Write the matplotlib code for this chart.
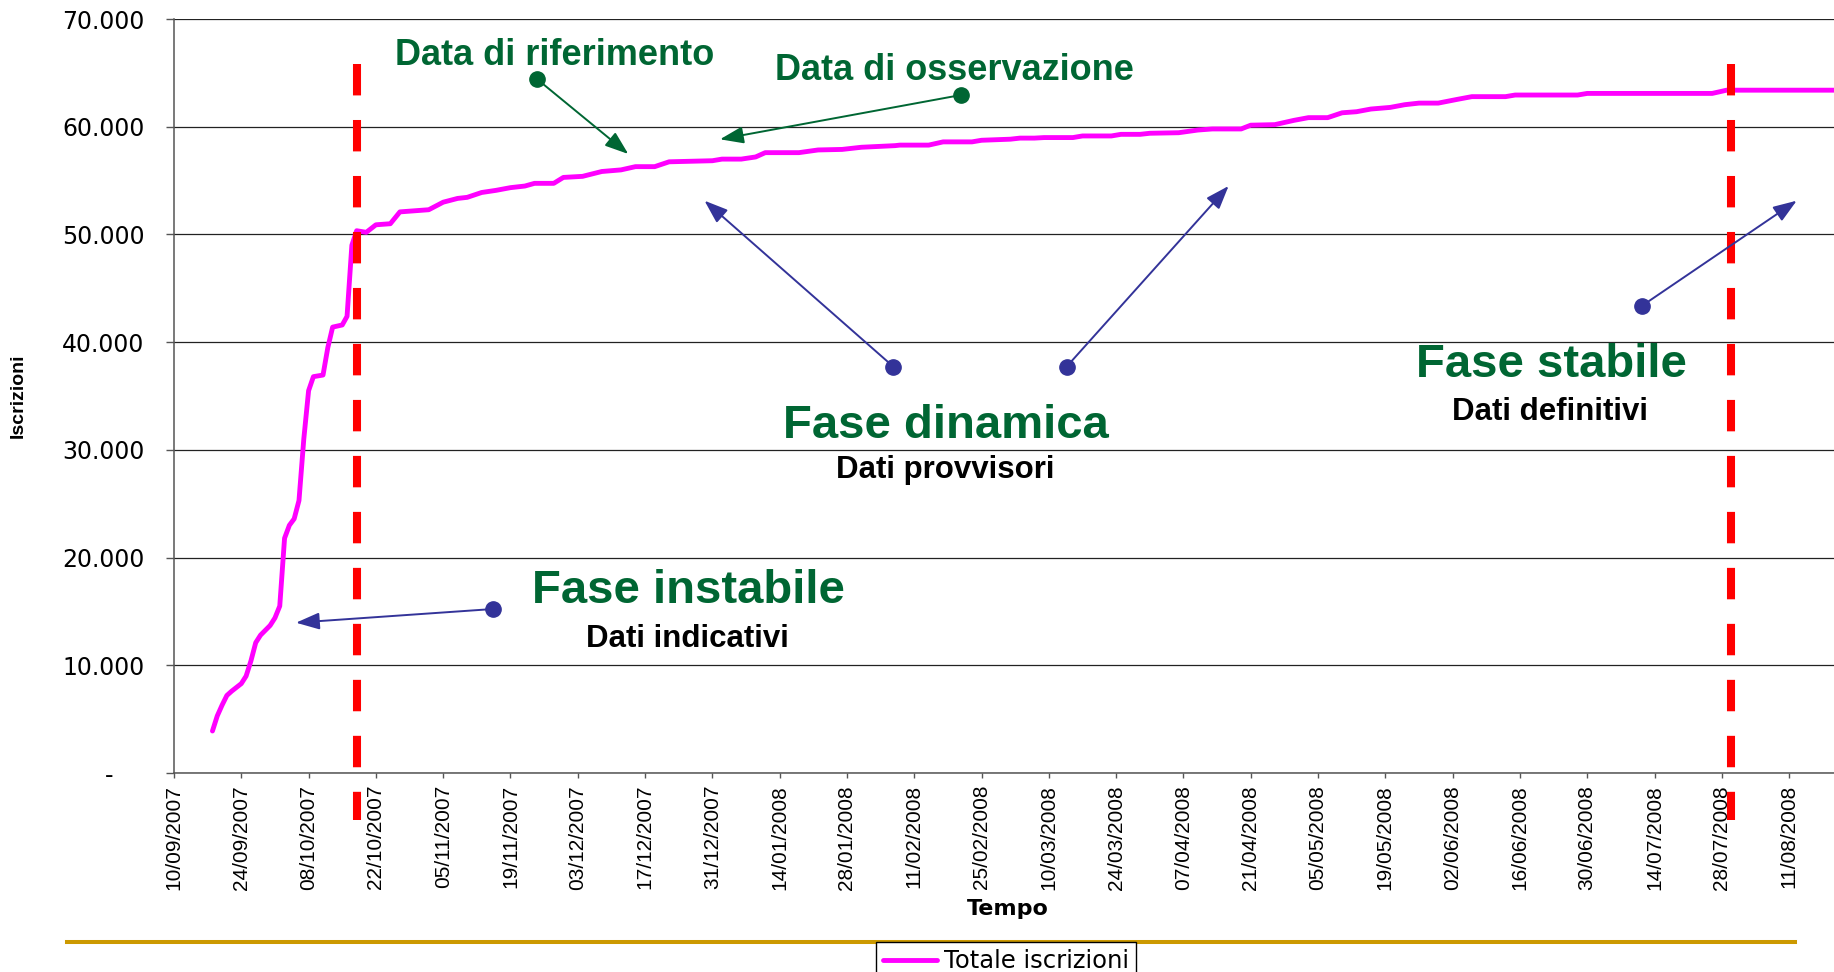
import matplotlib
matplotlib.use("Agg")
import matplotlib.pyplot as plt
from matplotlib.patches import FancyArrowPatch, ArrowStyle
from matplotlib.lines import Line2D
from matplotlib.transforms import ScaledTranslation
import pandas as pd

# ---------------- data ----------------
dates = [
    "2007-09-18", "2007-09-19", "2007-09-20", "2007-09-21", "2007-09-22", "2007-09-24",
    "2007-09-25", "2007-09-26", "2007-09-27", "2007-09-28", "2007-09-30", "2007-10-01",
    "2007-10-02", "2007-10-03", "2007-10-04", "2007-10-05", "2007-10-06", "2007-10-07",
    "2007-10-08", "2007-10-09", "2007-10-11", "2007-10-12", "2007-10-13", "2007-10-15",
    "2007-10-16", "2007-10-17", "2007-10-18", "2007-10-20", "2007-10-22", "2007-10-25",
    "2007-10-27", "2007-11-02", "2007-11-05", "2007-11-08", "2007-11-10", "2007-11-13",
    "2007-11-16", "2007-11-19", "2007-11-22", "2007-11-24", "2007-11-28", "2007-11-30",
    "2007-12-04", "2007-12-08", "2007-12-12", "2007-12-15", "2007-12-19", "2007-12-22",
    "2007-12-31", "2008-01-02", "2008-01-06", "2008-01-09", "2008-01-11", "2008-01-18",
    "2008-01-22", "2008-01-27", "2008-01-31", "2008-02-07", "2008-02-08", "2008-02-14",
    "2008-02-17", "2008-02-23", "2008-02-25", "2008-03-02", "2008-03-04", "2008-03-07",
    "2008-03-09", "2008-03-15", "2008-03-17", "2008-03-23", "2008-03-25", "2008-03-29",
    "2008-03-31", "2008-04-06", "2008-04-10", "2008-04-13", "2008-04-19", "2008-04-21",
    "2008-04-26", "2008-04-30", "2008-05-03", "2008-05-07", "2008-05-10", "2008-05-13",
    "2008-05-16", "2008-05-20", "2008-05-23", "2008-05-26", "2008-05-30", "2008-06-03",
    "2008-06-06", "2008-06-13", "2008-06-15", "2008-06-28", "2008-06-30", "2008-07-26",
    "2008-07-29", "2008-08-22",
]
values = [
    3900, 5300, 6300, 7200, 7600, 8300,
    9000, 10400, 12100, 12800, 13700, 14400,
    15500, 21800, 23000, 23600, 25300, 31000,
    35500, 36800, 36950, 39500, 41400, 41600,
    42400, 49000, 50350, 50200, 50900, 51000,
    52100, 52300, 53000, 53350, 53450, 53900,
    54100, 54350, 54500, 54750, 54750, 55300,
    55400, 55850, 56000, 56300, 56300, 56750,
    56850, 57000, 57000, 57200, 57600, 57600,
    57850, 57900, 58100, 58250, 58300, 58300,
    58600, 58600, 58750, 58850, 58950, 58950,
    59000, 59000, 59150, 59150, 59300, 59300,
    59400, 59450, 59700, 59800, 59800, 60150,
    60200, 60600, 60850, 60850, 61300, 61400,
    61650, 61800, 62050, 62200, 62200, 62550,
    62800, 62800, 62950, 62950, 63100, 63100,
    63400, 63400,
]
series_name = "Totale iscrizioni"

tick_labels = [
    "10/09/2007", "24/09/2007", "08/10/2007", "22/10/2007", "05/11/2007",
    "19/11/2007", "03/12/2007", "17/12/2007", "31/12/2007", "14/01/2008",
    "28/01/2008", "11/02/2008", "25/02/2008", "10/03/2008", "24/03/2008",
    "07/04/2008", "21/04/2008", "05/05/2008", "19/05/2008", "02/06/2008",
    "16/06/2008", "30/06/2008", "14/07/2008", "28/07/2008", "11/08/2008",
]
y_ticks = [0, 10000, 20000, 30000, 40000, 50000, 60000, 70000]
y_tick_labels = ["-", "10.000", "20.000", "30.000", "40.000", "50.000", "60.000", "70.000"]

phase_dates = ["2007-10-18", "2008-07-30"]   # red dashed separators

# ---------------- figure ----------------
W, H = 1834, 972
fig = plt.figure(figsize=(W / 100, H / 100), dpi=100)
fig.patch.set_facecolor("white")


def fx(x):
    return x / W


def fy(y):
    return 1 - y / H


ax = fig.add_axes([fx(174), fy(773), fx(1834) - fx(174), fy(19.1) - fy(773)])

x = pd.to_datetime(dates)
line, = ax.plot(x, values, color="#FF00FF", lw=3.5, solid_joinstyle="round",
                solid_capstyle="round", zorder=3, label=series_name)

for d in phase_dates:
    ax.plot([pd.Timestamp(d)] * 2, [65800, -4360], color="#FF0000", lw=5.8,
            linestyle=(0, (3.9, 3.05)), dash_capstyle="butt", clip_on=False, zorder=4)

ax.set_xlim(pd.Timestamp("2007-09-10"), pd.Timestamp("2008-08-20 08:00"))
ax.set_ylim(0, 70000)

tick_dates = pd.to_datetime(tick_labels, format="%d/%m/%Y")
ax.set_xticks(tick_dates)
ax.set_xticklabels(tick_labels, rotation=90, fontsize=15, family="Liberation Sans")
ax.set_yticks(y_ticks)
ax.set_yticklabels(y_tick_labels, fontsize=17, family="DejaVu Sans")

ax.tick_params(axis="x", direction="out", length=3.6, width=1, color="#555555", pad=5)
ax.tick_params(axis="y", direction="out", length=5.8, width=1, color="#555555", pad=15.5)

# zero label "-" sits further left (accounting format)
zero_lbl = ax.yaxis.get_major_ticks()[0].label1
zero_lbl.set_transform(zero_lbl.get_transform() + ScaledTranslation(-0.31, 0, fig.dpi_scale_trans))

ax.grid(axis="y", color="#222222", lw=0.9)
ax.set_axisbelow(True)
for s in ["top", "right"]:
    ax.spines[s].set_visible(False)
for s in ["left", "bottom"]:
    ax.spines[s].set_color("#555555")
    ax.spines[s].set_linewidth(1.1)

ax.set_ylabel("Iscrizioni", fontsize=14, fontweight="bold", family="Liberation Sans")
ax.yaxis.set_label_coords(-0.0938, 0.5)
ax.yaxis.label.set_verticalalignment("center")
ax.set_xlabel("Tempo", fontsize=16, fontweight="bold", family="DejaVu Sans")
ax.xaxis.set_label_coords(0.502, -0.18)
ax.xaxis.label.set_verticalalignment("center")

# ---------------- overlay annotations ----------------
GREEN = "#006633"
NAVY = "#333399"


def label(xc, ybase, txt, size, color):
    fig.text(fx(xc), fy(ybase), txt, ha="center", va="baseline", fontsize=size,
             fontweight="bold", family="Liberation Sans", color=color)


label(555, 65, "Data di riferimento", 26, GREEN)
label(954.5, 80, "Data di osservazione", 26, GREEN)
label(945.5, 437.7, "Fase dinamica", 34, GREEN)
label(945, 478, "Dati provvisori", 22.5, "black")
label(1551, 377.3, "Fase stabile", 34, GREEN)
label(1550.5, 420, "Dati definitivi", 22.5, "black")
label(688, 603.3, "Fase instabile", 34, GREEN)
label(687, 646.7, "Dati indicativi", 22.5, "black")


def pointer(x0, y0, x1, y1, color):
    style = ArrowStyle("-|>", head_length=0.72, head_width=0.26)
    arr = FancyArrowPatch((fx(x0), fy(y0)), (fx(x1), fy(y1)), transform=fig.transFigure,
                          arrowstyle=style, mutation_scale=20, lw=1.4, color=color,
                          shrinkA=0, shrinkB=0, zorder=6)
    fig.add_artist(arr)
    fig.add_artist(Line2D([fx(x0)], [fy(y0)], marker="o", ms=11, color=color,
                          transform=fig.transFigure, zorder=7))


pointer(537.3, 79.3, 628.3, 154, GREEN)
pointer(961, 95, 720, 139.3, GREEN)
pointer(893.4, 366.7, 704.5, 200.7, NAVY)
pointer(1066.6, 366.7, 1228.6, 186, NAVY)
pointer(1641.7, 306, 1796.7, 200.7, NAVY)
pointer(493.2, 609, 296, 622.7, NAVY)

# ---------------- legend strip ----------------
fig.add_artist(Line2D([fx(66.7), fx(1795)], [fy(941.5), fy(941.5)], lw=2.9,
                      color="#CC9900", transform=fig.transFigure, zorder=2))
leg = fig.legend(handles=[line], loc="upper left", bbox_to_anchor=(fx(876), fy(942)),
                 bbox_transform=fig.transFigure, frameon=True, fancybox=False,
                 edgecolor="black", framealpha=1, borderpad=0.3, handlelength=2.2,
                 handletextpad=0.3, borderaxespad=0, prop={"family": "DejaVu Sans", "size": 17.5})
leg.get_frame().set_linewidth(1.0)
leg.set_zorder(10)

fig.savefig("out.png", dpi=100)
